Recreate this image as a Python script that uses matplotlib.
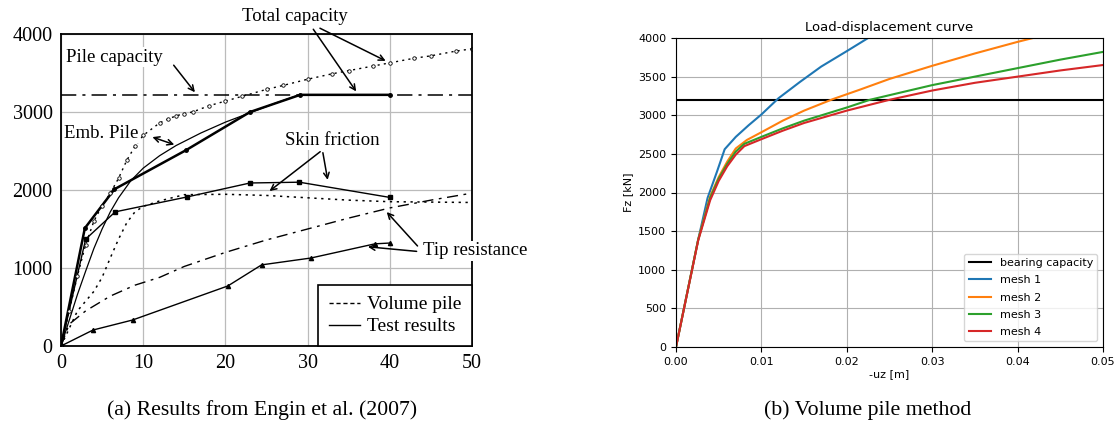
import numpy as np
import matplotlib.pyplot as plt

# (a) Engin et al. (2007) - settlement [mm] vs load [kN]
pile_capacity = 3220

test_total_x = [0, 2.9, 6.5, 15.2, 23, 29.1, 40]
test_total_y = [0, 1510, 2010, 2510, 3000, 3220, 3220]

test_skin_x = [0, 3, 6.6, 15.3, 23, 29, 40]
test_skin_y = [0, 1370, 1720, 1910, 2090, 2100, 1905]

test_tip_x = [0, 3.9, 8.7, 20.3, 24.4, 30.4, 38.2, 40]
test_tip_y = [0, 205, 333, 770, 1040, 1128, 1310, 1320]

emb_x = [0, 1, 2, 3, 4, 5, 6, 7, 8.5, 10, 12, 14, 17, 20, 23, 26, 29]
emb_y = [0, 330, 660, 960, 1250, 1500, 1720, 1900, 2120, 2280, 2440, 2570,
         2730, 2870, 2990, 3110, 3220]

vol_total_x = [0, 1, 2, 3, 4, 5, 6, 7, 8, 9, 10, 12, 13, 14, 15, 16, 18,
               20, 22, 25, 27, 30, 33, 35, 38, 40, 43, 45, 48, 50]
vol_total_y = [0, 450, 900, 1300, 1600, 1800, 1960, 2150, 2380, 2560, 2700,
               2860, 2910, 2950, 2980, 3000, 3080, 3140, 3200, 3290, 3340,
               3420, 3490, 3530, 3590, 3630, 3690, 3720, 3780, 3810]

vol_skin_x = [0, 2, 4, 5, 6, 7, 8, 9, 10, 12, 15, 20, 25, 30, 35, 40, 50]
vol_skin_y = [0, 450, 700, 880, 1130, 1370, 1580, 1720, 1790, 1860, 1940,
              1945, 1930, 1900, 1870, 1850, 1840]

vol_tip_x = [0, 1, 3, 6, 9, 12, 15, 20, 25, 30, 35, 40, 45, 50]
vol_tip_y = [0, 280, 450, 640, 780, 880, 1020, 1200, 1360, 1500, 1640,
             1770, 1870, 1960]

# (b) Volume pile method
bearing_capacity = 3200

mesh1_x = [0, 0.0026, 0.0037, 0.0048, 0.0057, 0.007, 0.0085, 0.01, 0.012,
           0.0145, 0.017, 0.02, 0.0225]
mesh1_y = [0, 1390, 1930, 2270, 2560, 2720, 2870, 3010, 3220, 3430, 3630,
           3830, 4000]

mesh2_x = [0, 0.0026, 0.004, 0.005, 0.006, 0.007, 0.0083, 0.01, 0.0125,
           0.015, 0.0184, 0.0215, 0.025, 0.03, 0.035, 0.04, 0.0418]
mesh2_y = [0, 1390, 1950, 2200, 2400, 2570, 2680, 2780, 2930, 3060, 3210,
           3330, 3470, 3640, 3800, 3950, 4000]

mesh3_x = [0, 0.0026, 0.004, 0.005, 0.006, 0.007, 0.008, 0.01, 0.0125,
           0.015, 0.02, 0.0227, 0.025, 0.03, 0.035, 0.04, 0.045, 0.05]
mesh3_y = [0, 1390, 1930, 2180, 2370, 2530, 2630, 2720, 2830, 2930, 3100,
           3200, 3260, 3390, 3500, 3610, 3720, 3820]

mesh4_x = [0, 0.0026, 0.004, 0.005, 0.006, 0.007, 0.008, 0.01, 0.0125,
           0.015, 0.02, 0.025, 0.03, 0.035, 0.04, 0.045, 0.05]
mesh4_y = [0, 1380, 1900, 2150, 2340, 2490, 2600, 2690, 2800, 2900, 3060,
           3200, 3320, 3420, 3500, 3580, 3650]

serif = ['Liberation Serif', 'DejaVu Serif']

fig = plt.figure(figsize=(11.18, 4.37), dpi=100)

# ---------------- left panel ----------------
ax1 = fig.add_axes([61/1118, 1-346/437, 411/1118, 312/437])
ax1.set_xlim(0, 50)
ax1.set_ylim(0, 4000)
ax1.set_xticks([0, 10, 20, 30, 40, 50])
ax1.set_yticks([0, 1000, 2000, 3000, 4000])
ax1.grid(True, color='#bbbbbb', lw=0.9)
ax1.set_axisbelow(True)
ax1.tick_params(length=0, pad=6, labelsize=14.5)
for lab in ax1.get_xticklabels() + ax1.get_yticklabels():
    lab.set_family(serif)
for sp in ax1.spines.values():
    sp.set_linewidth(1.3)

ax1.axhline(pile_capacity, color='k', lw=1.1, ls=(0, (10, 4, 2, 4)))
ax1.plot(test_total_x, test_total_y, 'k-', lw=1.8, marker='o', ms=2.5)
ax1.plot(test_skin_x, test_skin_y, 'k-', lw=1.0, marker='s', ms=3)
ax1.plot(test_tip_x, test_tip_y, 'k-', lw=1.0, marker='^', ms=3)
ax1.plot(emb_x, emb_y, 'k-', lw=0.9)
ax1.plot(vol_total_x, vol_total_y, color='k', lw=1.0, ls=(0, (1.5, 3)),
         marker='o', ms=2.5, mfc='white', mew=0.6)
ax1.plot(vol_skin_x, vol_skin_y, color='k', lw=1.1, ls=(0, (1.5, 3)))
ax1.plot(vol_tip_x, vol_tip_y, color='k', lw=1.0, ls=(0, (8, 4, 2, 4)))

txt = dict(fontsize=13.5, family=serif)
arr = dict(arrowstyle='->', color='k', lw=1.1)
ax1.text(28.5, 4230, 'Total capacity', ha='center', va='center', **txt)
ax1.annotate('', xy=(36.1, 3235), xytext=(30.5, 4090), arrowprops=arr,
             annotation_clip=False)
ax1.annotate('', xy=(39.8, 3640), xytext=(31.2, 4090), arrowprops=arr,
             annotation_clip=False)
ax1.text(0.6, 3705, 'Pile capacity', ha='left', va='center',
         bbox=dict(fc='white', ec='none', pad=1), **txt)
ax1.annotate('', xy=(16.5, 3225), xytext=(13.5, 3628), arrowprops=arr)
ax1.text(0.4, 2730, 'Emb. Pile', ha='left', va='center',
         bbox=dict(fc='white', ec='none', pad=1), **txt)
ax1.annotate('', xy=(14.1, 2570), xytext=(10.8, 2690),
             arrowprops=dict(arrowstyle='<->', color='k', lw=1.1))
ax1.text(33, 2641, 'Skin friction', ha='center', va='center',
         bbox=dict(fc='white', ec='none', pad=1), **txt)
ax1.annotate('', xy=(25.1, 1965), xytext=(31.8, 2513), arrowprops=arr)
ax1.annotate('', xy=(32.5, 2095), xytext=(31.8, 2513), arrowprops=arr)
ax1.text(44.0, 1218, 'Tip resistance', ha='left', va='center',
         bbox=dict(fc='white', ec='none', pad=1), **txt)
ax1.annotate('', xy=(39.4, 1744), xytext=(43.6, 1256), arrowprops=arr)
ax1.annotate('', xy=(37.0, 1275), xytext=(43.6, 1210), arrowprops=arr)

h1, = ax1.plot([], [], color='k', lw=1.0, ls=(0, (3, 2)))
h2, = ax1.plot([], [], color='k', lw=1.0)
leg1 = ax1.legend([h1, h2], ['Volume pile', 'Test results'], loc='lower right',
                  prop={'family': serif, 'size': 14}, fancybox=False,
                  framealpha=1, edgecolor='k', borderaxespad=0,
                  handlelength=1.6, handletextpad=0.35, borderpad=0.55,
                  labelspacing=0.22)
leg1.get_frame().set_linewidth(1.2)

# ---------------- right panel ----------------
ax2 = fig.add_axes([676/1118, 1-347/437, 427/1118, 309/437])
ax2.axhline(bearing_capacity, color='k', lw=1.5, label='bearing capacity')
ax2.plot(mesh1_x, mesh1_y, color='#1f77b4', lw=1.5, label='mesh 1')
ax2.plot(mesh2_x, mesh2_y, color='#ff7f0e', lw=1.5, label='mesh 2')
ax2.plot(mesh3_x, mesh3_y, color='#2ca02c', lw=1.5, label='mesh 3')
ax2.plot(mesh4_x, mesh4_y, color='#d62728', lw=1.5, label='mesh 4')
ax2.set_xlim(0, 0.05)
ax2.set_ylim(0, 4000)
ax2.set_xticks([0, 0.01, 0.02, 0.03, 0.04, 0.05])
ax2.set_xticklabels(['0.00', '0.01', '0.02', '0.03', '0.04', '0.05'])
ax2.grid(True, color='#b0b0b0', lw=0.8)
ax2.tick_params(labelsize=8)
ax2.set_title('Load-displacement curve', fontsize=9.5, pad=5)
ax2.set_xlabel('-uz [m]', fontsize=8, labelpad=2)
ax2.set_ylabel('Fz [kN]', fontsize=8, labelpad=4)
ax2.legend(loc='lower right', fontsize=8, labelspacing=0.65)

# captions
fig.text(262/1118, 1-410/437, '(a) Results from Engin et al. (2007)',
         ha='center', va='center', family=serif, fontsize=15.7)
fig.text(868/1118, 1-410/437, '(b) Volume pile method',
         ha='center', va='center', family=serif, fontsize=15.7)

fig.savefig('out.png', dpi=100)
